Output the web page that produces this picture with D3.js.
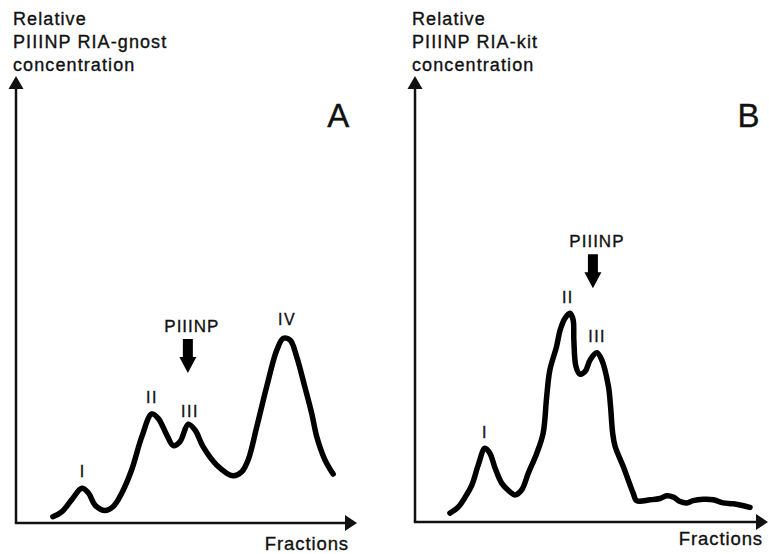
<!DOCTYPE html>
<html>
<head>
<meta charset="utf-8">
<script src="https://cdn.jsdelivr.net/npm/d3@7"></script>
<style>
  body { margin: 0; background: #fff; }
  text { font-family: "Liberation Sans", Arial, Helvetica, sans-serif; fill: #111; stroke: #111; stroke-width: 0.35px; }
</style>
</head>
<body>
<script>
// panel A: PIIINP RIA-gnost
var fracA = [10.8, 13.4, 16.3, 19.3, 21.2, 23.2, 26.1, 28.5, 31.0, 33.9, 36.9, 39.8, 41.7, 44.2, 46.1, 48.1, 50.5, 52.5, 54.9, 58.9, 63.7, 66.2, 68.1, 70.6, 73.5, 76.5, 78.4, 80.4, 82.3, 84.7, 86.7, 88.2, 90.6, 93.0];
var concA = [1.4, 2.5, 5.2, 7.8, 6.8, 4.0, 2.8, 3.7, 6.7, 11.9, 19.4, 24.5, 23.5, 19.8, 17.4, 18.3, 22.2, 20.9, 17.1, 13.0, 10.6, 11.5, 14.2, 21.6, 30.6, 38.9, 41.5, 41.1, 37.4, 30.6, 24.7, 19.4, 14.2, 11.0];

// panel B: PIIINP RIA-kit
var fracB = [9.9, 12.3, 14.6, 16.1, 17.9, 19.8, 21.2, 22.7, 24.6, 26.9, 28.3, 30.2, 32.1, 34.5, 36.3, 37.3, 38.2, 40.1, 41.1, 42.5, 43.9, 44.8, 45.0, 45.6, 46.7, 48.2, 49.6, 51.5, 52.9, 54.8, 55.4, 56.0, 56.7, 59.0, 61.8, 62.8, 66.6, 69.4, 71.3, 73.2, 75.1, 77.0, 78.8, 81.7, 84.5, 87.3, 90.2, 94.9];
var concB = [2.0, 3.4, 6.1, 8.3, 12.8, 16.6, 15.5, 12.1, 8.7, 6.8, 6.1, 7.2, 11.0, 15.5, 20.0, 28.2, 34.2, 39.5, 43.2, 45.9, 47.0, 45.5, 41.0, 35.0, 33.3, 33.9, 36.5, 38.1, 36.5, 30.5, 26.0, 20.0, 17.0, 12.5, 6.5, 4.8, 5.0, 5.3, 5.9, 5.6, 4.6, 4.3, 4.8, 5.1, 5.0, 4.3, 4.1, 3.3];

// peak labels (fraction, level of label)
var peaksA = [
  { name: "I", frac: 19.6, conc: 10.3 },
  { name: "II", frac: 39.9, conc: 27.0 },
  { name: "III", frac: 51.0, conc: 23.8 },
  { name: "IV", frac: 79.5, conc: 44.5 }
];
var peaksB = [
  { name: "I", frac: 19.8, conc: 18.9 },
  { name: "II", frac: 43.3, conc: 49.3 },
  { name: "III", frac: 51.6, conc: 40.5 }
];

// where native PIIINP elutes
var markerA = { frac: 50.4, conc: 42.9 };
var markerB = { frac: 50.4, conc: 61.9 };

var titleA = ["Relative", "PIIINP RIA-gnost", "concentration"];
var titleB = ["Relative", "PIIINP RIA-kit", "concentration"];

var width = 769, height = 554;

var svg = d3.select("body")
    .append("svg")
    .attr("width", width)
    .attr("height", height);

var panels = [
  { x0: 16, x1: 357, y0: 523, y1: 78, letter: "A", title: titleA, frac: fracA, conc: concA, peaks: peaksA, marker: markerA, fracEnd: 349, fracBase: 550 },
  { x0: 415, x1: 768, y0: 522, y1: 78, letter: "B", title: titleB, frac: fracB, conc: concB, peaks: peaksB, marker: markerB, fracEnd: 763, fracBase: 545 }
];

panels.forEach(function(p) {
  var g = svg.append("g");

  var x = d3.scaleLinear().domain([0, 100]).range([p.x0, p.x1]);
  var y = d3.scaleLinear().domain([0, 100]).range([p.y0, p.y1]);

  // axes with arrow heads
  g.append("line")
      .attr("x1", p.x0).attr("y1", p.y0)
      .attr("x2", p.x0).attr("y2", p.y1 + 8)
      .attr("stroke", "#111").attr("stroke-width", 2.5);
  g.append("path")
      .attr("d", "M" + p.x0 + "," + (p.y1 - 2) + "L" + (p.x0 - 7.5) + "," + (p.y1 + 11) + "L" + (p.x0 + 7.5) + "," + (p.y1 + 11) + "Z")
      .attr("fill", "#111");

  g.append("line")
      .attr("x1", p.x0 - 1.2).attr("y1", p.y0)
      .attr("x2", p.x1 - 8).attr("y2", p.y0)
      .attr("stroke", "#111").attr("stroke-width", 2.5);
  g.append("path")
      .attr("d", "M" + p.x1 + "," + p.y0 + "L" + (p.x1 - 12) + "," + (p.y0 - 8) + "L" + (p.x1 - 12) + "," + (p.y0 + 8) + "Z")
      .attr("fill", "#111");

  // y title
  g.append("text")
      .attr("x", p.x0 - 3)
      .attr("y", 25)
      .style("font-size", "18px")
      .style("letter-spacing", "1.1px")
      .selectAll("tspan")
      .data(p.title)
      .enter().append("tspan")
      .attr("x", p.x0 - 3)
      .attr("dy", function(d, i) { return i === 0 ? 0 : 23; })
      .text(function(d) { return d; });

  g.append("text")
      .attr("x", p.fracEnd)
      .attr("y", p.fracBase)
      .attr("text-anchor", "end")
      .style("font-size", "18.5px")
      .style("letter-spacing", "0.9px")
      .text("Fractions");

  g.append("text")
      .attr("x", x(94.5))
      .attr("y", 127)
      .attr("text-anchor", "middle")
      .style("font-size", "33px")
      .text(p.letter);

  // elution curve
  var pts = p.frac.map(function(f, i) { return [f, p.conc[i]]; });
  var line = d3.line()
      .curve(d3.curveCatmullRom.alpha(0.5))
      .x(function(d) { return x(d[0]); })
      .y(function(d) { return y(d[1]); });

  g.append("path")
      .datum(pts)
      .attr("d", line)
      .attr("fill", "none")
      .attr("stroke", "#000")
      .attr("stroke-width", 5.5)
      .attr("stroke-linecap", "round")
      .attr("stroke-linejoin", "round");

  g.selectAll(".peak")
      .data(p.peaks)
      .enter().append("text")
      .attr("class", "peak")
      .attr("x", function(d) { return x(d.frac); })
      .attr("y", function(d) { return y(d.conc); })
      .attr("text-anchor", "middle")
      .style("font-size", "16px")
      .style("letter-spacing", "1.5px")
      .text(function(d) { return d.name; });

  // PIIINP marker arrow
  var mx = x(p.marker.frac), my = y(p.marker.conc);
  g.append("text")
      .attr("x", mx + 4)
      .attr("y", my)
      .attr("text-anchor", "middle")
      .style("font-size", "17px")
      .style("letter-spacing", "1px")
      .text("PIIINP");
  var top = my + 7;
  g.append("path")
      .attr("d", "M" + (mx - 5) + "," + top + "H" + (mx + 5) + "V" + (top + 18) + "H" + (mx + 8.5) +
                 "L" + mx + "," + (top + 34) + "L" + (mx - 8.5) + "," + (top + 18) + "H" + (mx - 5) + "Z")
      .attr("fill", "#000");
});
</script>
</body>
</html>
